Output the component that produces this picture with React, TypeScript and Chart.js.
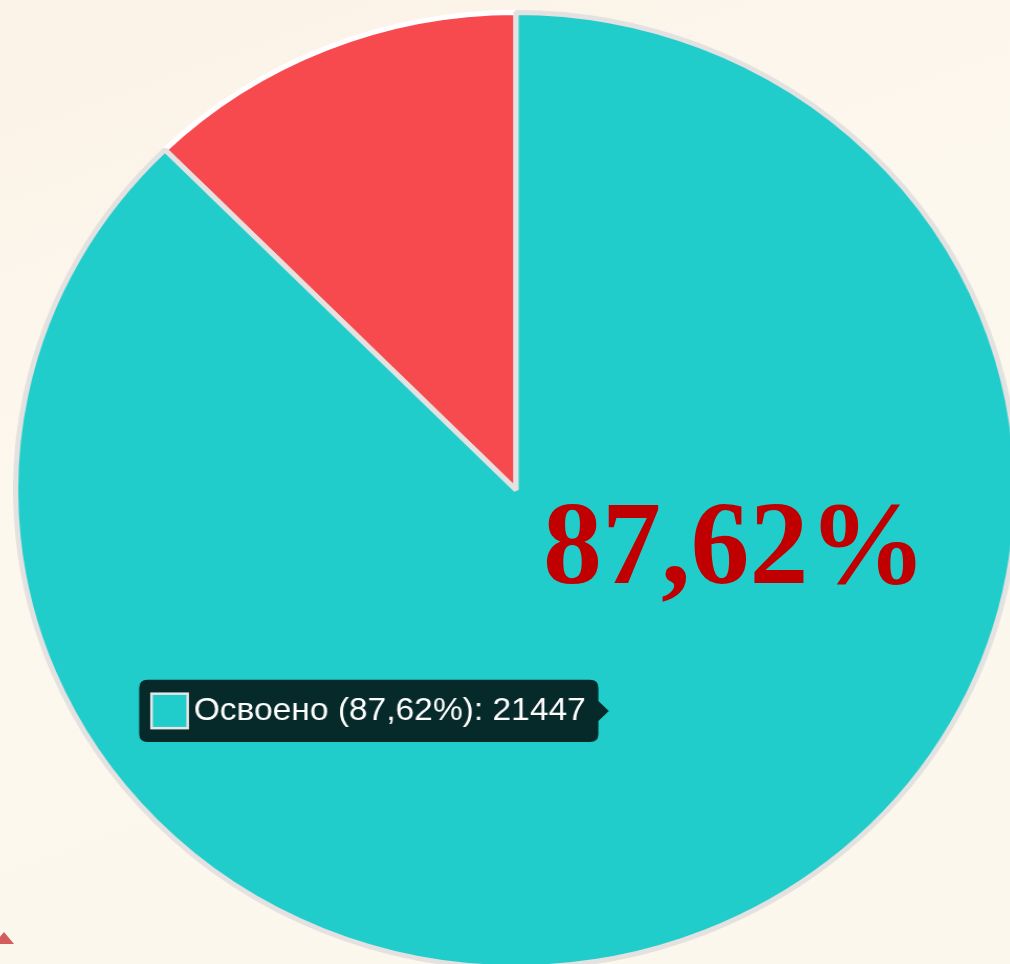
import React, { useEffect, useRef } from "react";
import { Chart, registerables } from "chart.js";

Chart.register(...registerables);

const categories = ["Освоено (87,62%)", "Не освоено (12,38%)"];
const values = [21447, 3030];
const sliceColors = ["#20cdcb", "#f64a4f"];
const bigLabel = "87,62%";

export default function App() {
  const ref = useRef<HTMLCanvasElement | null>(null);

  useEffect(() => {
    if (!ref.current) return;
    const chart = new Chart(ref.current, {
      type: "pie",
      data: {
        labels: categories,
        datasets: [
          {
            data: values,
            backgroundColor: sliceColors,
            hoverBackgroundColor: sliceColors,
            borderColor: "#ffffff",
            hoverBorderColor: "#e4e1e1",
            borderWidth: 5,
            hoverBorderWidth: 5,
            hoverOffset: 0,
          },
        ],
      },
      options: {
        responsive: false,
        animation: false,
        events: [],
        layout: { padding: 0 },
        plugins: {
          legend: { display: false },
          tooltip: {
            enabled: true,
            backgroundColor: "rgba(0,0,0,0.8)",
            bodyFont: { family: "'Liberation Sans', Arial, sans-serif", size: 32 },
            bodyColor: "#ffffff",
            padding: 12,
            caretSize: 10,
            cornerRadius: 8,
            boxWidth: 34,
            boxHeight: 34,
            boxPadding: 4,
            displayColors: true,
            callbacks: {
              title: () => "",
              label: (item: any) => `${item.label}: ${values[item.dataIndex]}`,
              labelColor: (item: any) => ({
                borderColor: "#e6e6e6",
                backgroundColor: sliceColors[item.dataIndex],
                borderWidth: 3,
              }),
            },
          },
        },
      },
    });
    chart.setActiveElements([{ datasetIndex: 0, index: 0 }]);
    chart.tooltip?.setActiveElements([{ datasetIndex: 0, index: 0 }], { x: 0, y: 0 });
    chart.update();
    return () => chart.destroy();
  }, []);

  return (
    <div
      style={{
        position: "fixed",
        left: 0,
        top: 0,
        width: 1010,
        height: 964,
        overflow: "hidden",
        background: "linear-gradient(160deg, #fbf2e7 0%, #fdf8ee 40%, #fcf7ec 100%)",
      }}
    >
      <div
        style={{
          position: "absolute",
          left: -6,
          top: 932,
          width: 0,
          height: 0,
          borderLeft: "10px solid transparent",
          borderRight: "10px solid transparent",
          borderBottom: "12px solid #c8343a",
          opacity: 0.8,
        }}
      />
      <canvas
        ref={ref}
        width={960}
        height={960}
        style={{
          position: "absolute",
          left: 13,
          top: 10,
          width: 960,
          height: 960,
          transform: "scaleX(1.048)",
          transformOrigin: "0 0",
        }}
      />
      <div
        style={{
          position: "absolute",
          left: 543,
          top: 479,
          fontFamily: "'Liberation Serif', 'Times New Roman', serif",
          fontWeight: "bold",
          fontSize: 118,
          lineHeight: "130px",
          color: "#c00000",
          whiteSpace: "nowrap",
        }}
      >
        {bigLabel}
      </div>
    </div>
  );
}
